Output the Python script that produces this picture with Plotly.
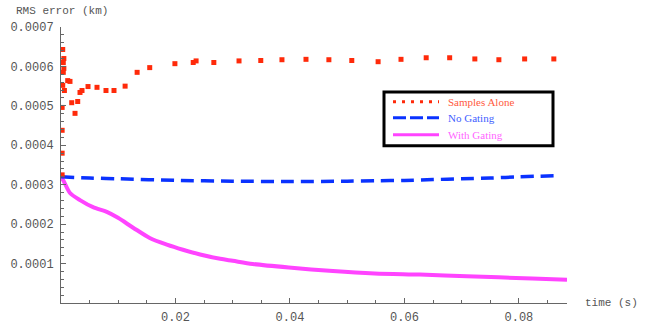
import plotly.graph_objects as go

# ---- data ----
samples_t = [0.0002, 0.0002, 0.0002, 0.0002, 0.0003, 0.0003, 0.0005, 0.0004, 0.0005, 0.0004, 0.0006,
             0.00117, 0.00157, 0.00187, 0.00245, 0.00292, 0.00332, 0.00367, 0.00472, 0.00629, 0.00786,
             0.00926, 0.0112, 0.0133, 0.0155, 0.0199, 0.0231, 0.0236, 0.0267, 0.0311, 0.0349, 0.0386,
             0.0428, 0.0468, 0.0508, 0.0554, 0.0594, 0.0638, 0.0679, 0.0723, 0.0765, 0.0810, 0.0861]
samples_v = [0.000325, 0.000380, 0.000438, 0.000496, 0.000552, 0.000643, 0.000620, 0.000610, 0.000595,
             0.000585, 0.000539,
             0.000564, 0.000562, 0.000508, 0.000481, 0.000511, 0.000534, 0.000539, 0.000549, 0.000547,
             0.000539, 0.000539, 0.000550, 0.000585, 0.000597, 0.000607, 0.000610, 0.000614, 0.000610,
             0.000614, 0.000615, 0.000617, 0.000618, 0.000617, 0.000615, 0.000612, 0.000618, 0.000622,
             0.000622, 0.000619, 0.000617, 0.000619, 0.000619]

nogate_t = [0.0, 0.005, 0.01, 0.02, 0.03, 0.04, 0.05, 0.055, 0.06, 0.065, 0.07, 0.075, 0.08, 0.0868]
nogate_v = [0.000320, 0.000317, 0.000315, 0.000311, 0.000309, 0.000308, 0.000309, 0.000310, 0.000311,
            0.000313, 0.000315, 0.000317, 0.000320, 0.000323]

gate_t = [0.0, 0.00035, 0.00157, 0.00332, 0.0056, 0.008, 0.00996, 0.0126, 0.0155, 0.0185, 0.0213,
          0.0243, 0.0278, 0.0300, 0.0335, 0.0398, 0.0475, 0.0548, 0.0627, 0.0709, 0.0823, 0.0884]
gate_v = [0.000316, 0.000312, 0.000279, 0.000261, 0.000243, 0.000231, 0.000216, 0.000191, 0.000165,
          0.000148, 0.000135, 0.000123, 0.000112, 0.000107, 0.000099, 0.000090, 0.000081, 0.000075,
          0.000072, 0.000068, 0.000062, 0.000059]

y_ticks = [0.0001, 0.0002, 0.0003, 0.0004, 0.0005, 0.0006, 0.0007]
y_labels = ["0.0001", "0.0002", "0.0003", "0.0004", "0.0005", "0.0006", "0.0007"]
x_ticks = [0.02, 0.04, 0.06, 0.08]
x_labels = ["0.02", "0.04", "0.06", "0.08"]

legend_names = ["Samples Alone", "No Gating", "With Gating"]

RED = "#ff2a0a"
BLUE = "#0a32ff"
PINK = "#ff44ff"
LEG_TEXT = ["#ff5a40", "#4060ff", "#ff66ff"]
LEG_LINE = [dict(color=RED, width=3, dash="3px,6px"),
            dict(color=BLUE, width=3, dash="13px,4px"),
            dict(color=PINK, width=3)]

W, H = 654, 327
# plot-area edges in page pixels
P_LEFT, P_RIGHT, P_TOP, P_BOTTOM = 61, 567, 27, 303.5
ML = P_LEFT
MT = P_TOP
MR = W - P_RIGHT
MB = H - P_BOTTOM
PW, PH = W - ML - MR, H - MT - MB


def px(x):
    return (x - P_LEFT) / PW


def py(y):
    return (P_BOTTOM - y) / PH


fig = go.Figure()
fig.add_trace(go.Scatter(x=gate_t, y=gate_v, mode="lines",
                         line=dict(color=PINK, width=4, shape="spline", smoothing=0.8),
                         name=legend_names[2], showlegend=False, hoverinfo="skip"))
fig.add_trace(go.Scatter(x=nogate_t, y=nogate_v, mode="lines",
                         line=dict(color=BLUE, width=3.5, dash="13px,7px", shape="spline", smoothing=0.8),
                         name=legend_names[1], showlegend=False, hoverinfo="skip"))
fig.add_trace(go.Scatter(x=samples_t, y=samples_v, mode="markers",
                         marker=dict(symbol="square", size=5, color=RED, line=dict(width=0)),
                         name=legend_names[0], showlegend=False, hoverinfo="skip"))

axis_font = dict(family="Liberation Mono, Courier New, monospace", size=11, color="#555555")
tick_font = dict(family="Liberation Mono, Courier New, monospace", size=12, color="#555555")

shapes = [dict(type="rect", xref="paper", yref="paper",
               x0=px(384), x1=px(553), y0=py(92), y1=py(146),
               line=dict(color="black", width=3), fillcolor="white", layer="above")]
annotations = [
    dict(text="RMS error (km)", x=px(14), y=py(11), xref="paper", yref="paper", showarrow=False,
         font=axis_font, xanchor="left", yanchor="middle"),
    dict(text="time (s)", x=px(583), y=py(303), xref="paper", yref="paper", showarrow=False,
         font=axis_font, xanchor="left", yanchor="middle"),
]
leg_y = [102, 118, 135]
for name, ly, lc, ls in zip(legend_names, leg_y, LEG_TEXT, LEG_LINE):
    shapes.append(dict(type="line", xref="paper", yref="paper",
                       x0=px(393), x1=px(439), y0=py(ly), y1=py(ly), line=ls, layer="above"))
    annotations.append(dict(text=name, x=px(446), y=py(ly), xref="paper", yref="paper",
                            showarrow=False, xanchor="left", yanchor="middle",
                            font=dict(family="Liberation Serif, Times New Roman, serif",
                                      size=11, color=lc)))

fig.update_layout(
    width=W, height=H,
    margin=dict(l=ML, r=MR, t=MT, b=MB),
    paper_bgcolor="white", plot_bgcolor="white",
    showlegend=False,
    xaxis=dict(range=[0, 0.0884], showgrid=False, zeroline=False, automargin=False,
               showline=True, linecolor="#666666", linewidth=1,
               tickmode="array", tickvals=x_ticks, ticktext=x_labels,
               ticks="inside", ticklen=5, tickcolor="#666666", ticklabelstandoff=3,
               minor=dict(ticks="inside", ticklen=3, dtick=0.005, tick0=0, tickcolor="#666666"),
               tickfont=tick_font, fixedrange=True),
    yaxis=dict(range=[0, 0.0007], showgrid=False, zeroline=False, automargin=False,
               showline=True, linecolor="#666666", linewidth=1,
               tickmode="array", tickvals=y_ticks, ticktext=y_labels,
               ticks="inside", ticklen=5, tickcolor="#666666", ticklabelstandoff=4,
               minor=dict(ticks="inside", ticklen=3, dtick=0.00002, tick0=0, tickcolor="#666666"),
               tickfont=tick_font, fixedrange=True),
    shapes=shapes,
    annotations=annotations,
)

fig.write_html("out.html", config={"displayModeBar": False},
               post_script="document.body.style.margin='0';document.body.style.overflow='hidden';")
